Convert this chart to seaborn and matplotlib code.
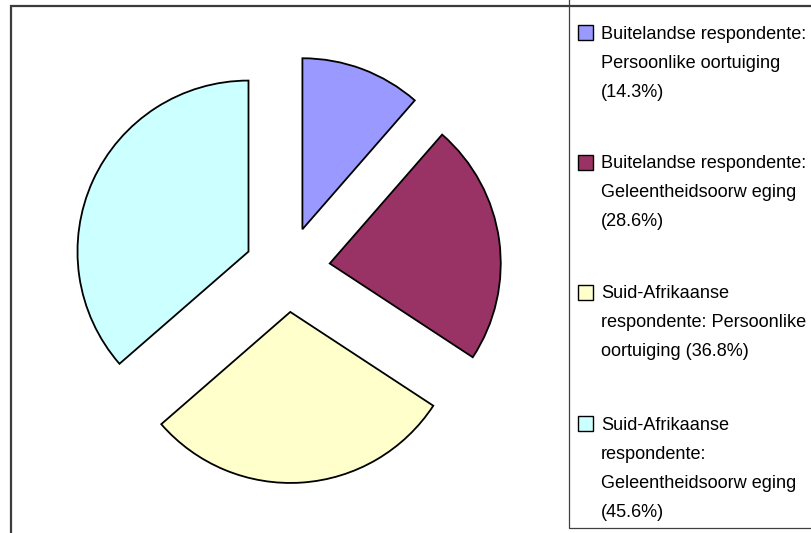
import matplotlib
matplotlib.use("Agg")
import matplotlib.pyplot as plt
from matplotlib.patches import Rectangle
import seaborn as sns

# ---------------- DATA ----------------
shares = [14.3, 28.6, 36.8, 45.6]
colours = ["#9999FF", "#993366", "#FFFFCC", "#CCFFFF"]
legend_labels = [
    "Buitelandse respondente:\nPersoonlike oortuiging\n(14.3%)",
    "Buitelandse respondente:\nGeleentheidsoorw eging\n(28.6%)",
    "Suid-Afrikaanse\nrespondente: Persoonlike\noortuiging (36.8%)",
    "Suid-Afrikaanse\nrespondente:\nGeleentheidsoorw eging\n(45.6%)",
]

# ---------------- LAYOUT (pixels, from top-left) ----------------
W, H = 812, 533
PIE_CX, PIE_CY, PIE_R = 287.4, 269.3, 171.0
ENTRY_Y = [32.5, 162, 292, 423.5]   # cap-centre of first line of each legend entry


def fx(x):
    return x / W


def fy(y):
    return 1 - y / H


sns.set_style("white")
plt.rcParams["font.family"] = ["Liberation Sans", "DejaVu Sans"]
palette = sns.color_palette(colours)

fig = plt.figure(figsize=(W / 100, H / 100), dpi=100)
ax = fig.add_axes([0, 0, 1, 1])
ax.pie(
    shares,
    colors=palette,
    startangle=90,
    counterclock=False,
    explode=[0.25] * len(shares),
    radius=1,
    wedgeprops=dict(edgecolor="black", linewidth=1.3),
)
ax.set_xlim(-PIE_CX / PIE_R, (W - PIE_CX) / PIE_R)
ax.set_ylim(-(H - PIE_CY) / PIE_R, PIE_CY / PIE_R)
ax.set_aspect("auto")
ax.axis("off")

# outer chart frame (runs off the right and bottom edges)
fig.add_artist(Rectangle((fx(11), -0.1), 1.2, fy(6.5) + 0.1, transform=fig.transFigure,
                         fill=False, edgecolor="#3c3c3c", linewidth=1.6, zorder=5))

# legend box
fig.add_artist(Rectangle((fx(569), fy(528)), 1.0, 1.0, transform=fig.transFigure,
                         fill=False, edgecolor="#404040", linewidth=0.9, zorder=4))

for y0, label, col in zip(ENTRY_Y, legend_labels, palette):
    fig.add_artist(Rectangle((fx(578.5), fy(y0 + 7.5)), 15 / W, 15 / H, transform=fig.transFigure,
                             facecolor=col, edgecolor="black", linewidth=1.0, zorder=6))
    fig.text(fx(601), fy(y0 - 6.6), label, ha="left", va="top",
             fontsize=13.1, linespacing=1.92, color="black")

fig.savefig("out.png", dpi=100)
